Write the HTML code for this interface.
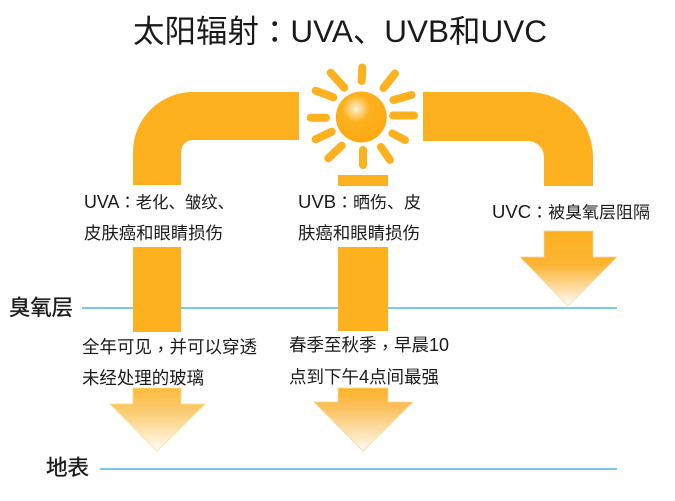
<!DOCTYPE html>
<html>
<head>
<meta charset="utf-8">
<style>
html,body{margin:0;padding:0;background:#fff}
svg{display:block}
text{font-family:"Liberation Sans","Noto Sans CJK SC",sans-serif;fill:#1a1a1a}
.p{font-family:"Noto Sans CJK TC",sans-serif}
.l{font-size:18px}
.h{stroke:#1a1a1a;stroke-width:.35px}
</style>
</head>
<body>
<svg width="675" height="501" viewBox="0 0 675 501" xmlns="http://www.w3.org/2000/svg">
<defs>
<linearGradient id="g1" x1="0" y1="0" x2="0" y2="1">
<stop offset="0" stop-color="#fdb11f"/><stop offset="0.45" stop-color="#fcb433"/><stop offset="1" stop-color="#fffdf8"/>
</linearGradient>
<linearGradient id="g2" x1="0" y1="0" x2="0" y2="1">
<stop offset="0" stop-color="#fdbb3c"/><stop offset="0.35" stop-color="#fcca6e"/><stop offset="1" stop-color="#fffcf5"/>
</linearGradient>
<linearGradient id="g3" x1="0" y1="0" x2="0" y2="1">
<stop offset="0" stop-color="#fdb327"/><stop offset="0.3" stop-color="#fcbf5a"/><stop offset="1" stop-color="#fffaf0"/>
</linearGradient>
<radialGradient id="sun" cx="0.4" cy="0.34" r="0.62">
<stop offset="0" stop-color="#fff8e8"/><stop offset="0.1" stop-color="#fee3a8"/><stop offset="0.42" stop-color="#fdb11f"/><stop offset="1" stop-color="#fdaa14"/>
</radialGradient>
</defs>

<line x1="82" y1="308" x2="617" y2="308" stroke="#7cc8ea" stroke-width="2"/>
<line x1="100" y1="469" x2="617" y2="469" stroke="#7cc8ea" stroke-width="2"/>

<path d="M133 185V152A60 60 0 0 1 193 92H299V140H193A12 12 0 0 0 181 152V185Z" fill="#fdb11f"/>
<path d="M423 92H528A65 65 0 0 1 593 157V186H544V157A16 16 0 0 0 528 141H423Z" fill="#fdb11f"/>

<rect x="133" y="247" width="48" height="85" fill="#fdb11f"/>
<rect x="338" y="175" width="50" height="11" fill="#fdb11f"/>
<rect x="338" y="247" width="50" height="84" fill="#fdb11f"/>

<path d="M544 231H593V257H617L568 306L520 257H544Z" fill="url(#g1)" stroke="#f6d9a0" stroke-width="0.700"/>
<path d="M133 388H181V404H205L157 451L110 404H133Z" fill="url(#g2)" stroke="#f8e08a" stroke-width="0.800"/>
<path d="M338 388H388V402H413L363 451L314 402H338Z" fill="url(#g3)" stroke="#f6d9a0" stroke-width="0.800"/>

<g stroke="#fdb11f" stroke-width="8" stroke-linecap="round">
<line x1="362.300" y1="67.500" x2="361.700" y2="81"/>
<line x1="395" y1="73.500" x2="383.500" y2="88"/>
<line x1="411.500" y1="95" x2="393.500" y2="100"/>
<line x1="414" y1="115.500" x2="393" y2="115.500"/>
<line x1="405" y1="140" x2="392.500" y2="133.500"/>
<line x1="390" y1="160" x2="381" y2="147"/>
<line x1="363" y1="165" x2="363" y2="150"/>
<line x1="341.700" y1="145.700" x2="328.300" y2="158.300"/>
<line x1="331.700" y1="131.700" x2="315.700" y2="139.300"/>
<line x1="326" y1="117.700" x2="310.700" y2="117.700"/>
<line x1="333.300" y1="97.300" x2="315.700" y2="90.700"/>
<line x1="344.300" y1="87.700" x2="330.700" y2="72.700"/>
</g>
<circle cx="361.300" cy="117" r="25.500" fill="url(#sun)"/>

<text x="133" y="42" font-size="31.500" textLength="414" lengthAdjust="spacingAndGlyphs">太阳辐射<tspan class="p" dy="1">：</tspan><tspan dy="-1">UVA、UVB和UVC</tspan></text>

<text x="84" y="208" font-size="16.500" textLength="150" lengthAdjust="spacingAndGlyphs"><tspan class="l">UVA</tspan><tspan class="p">：</tspan>老化、皱纹、</text>
<text x="84" y="239" font-size="17" textLength="139" lengthAdjust="spacingAndGlyphs">皮肤癌和眼睛损伤</text>
<text x="298" y="208" font-size="16.500" textLength="123" lengthAdjust="spacingAndGlyphs"><tspan class="l">UVB</tspan><tspan class="p">：</tspan>晒伤、皮</text>
<text x="298" y="239" font-size="17" textLength="122" lengthAdjust="spacingAndGlyphs">肤癌和眼睛损伤</text>
<text x="492" y="218" font-size="16.500" textLength="158" lengthAdjust="spacingAndGlyphs"><tspan class="l">UVC</tspan><tspan class="p">：</tspan>被臭氧层阻隔</text>

<text class="h" x="9" y="315" font-size="21.500" textLength="64" lengthAdjust="spacingAndGlyphs">臭氧层</text>
<text x="82" y="353" font-size="17.500" textLength="175" lengthAdjust="spacingAndGlyphs">全年可见<tspan class="p" dy="3">，</tspan><tspan dy="-3">并可以穿透</tspan></text>
<text x="82" y="384" font-size="17.500" textLength="122" lengthAdjust="spacingAndGlyphs">未经处理的玻璃</text>
<text x="289" y="351" font-size="17.500" textLength="160" lengthAdjust="spacingAndGlyphs">春季至秋季<tspan class="p" dy="3">，</tspan><tspan dy="-3">早晨</tspan><tspan class="l">10</tspan></text>
<text x="289" y="383" font-size="17.500" textLength="150" lengthAdjust="spacingAndGlyphs">点到下午<tspan class="l">4</tspan>点间最强</text>
<text class="h" x="46" y="475" font-size="21.500" textLength="43" lengthAdjust="spacingAndGlyphs">地表</text>
</svg>
</body>
</html>
